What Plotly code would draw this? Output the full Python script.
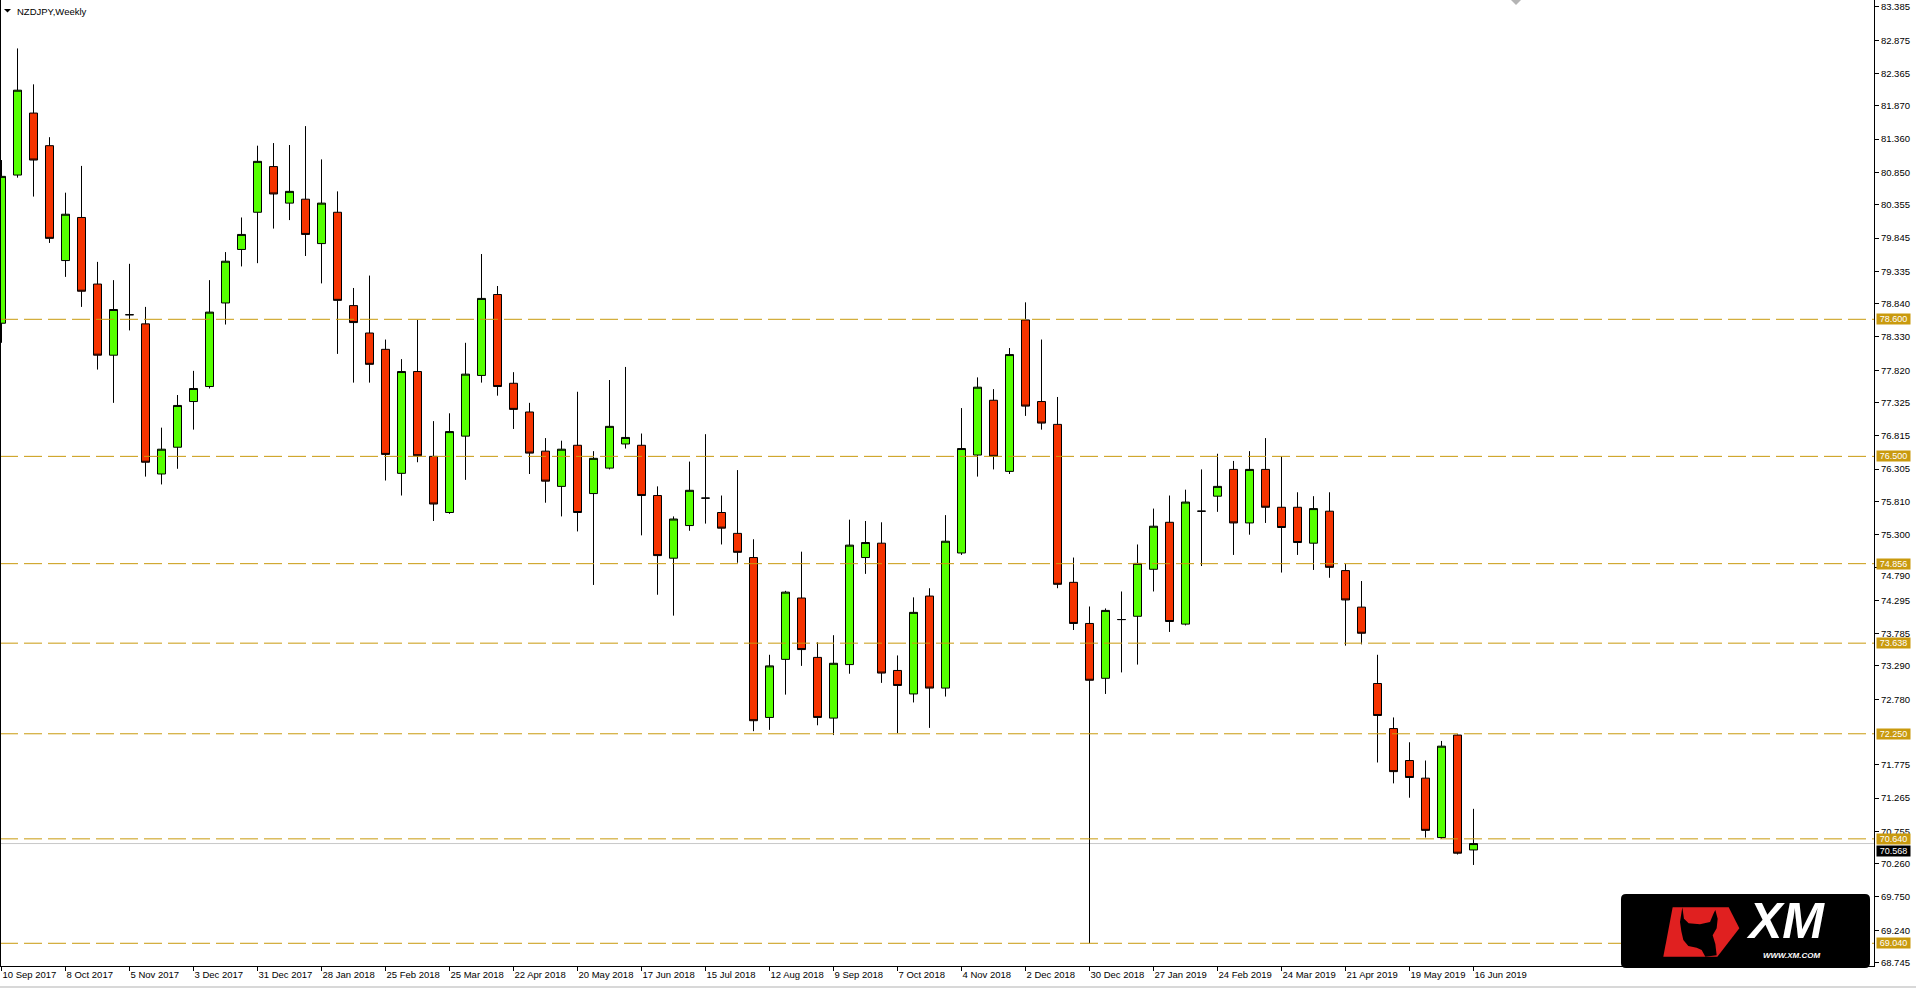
import plotly.graph_objects as go
import pandas as pd

# ---------------- data ----------------
first_week = "2017-09-10"
n_weeks = 93

opens = [78.54, 80.81, 81.76, 81.26, 79.50, 80.16, 79.14, 78.05, 78.67, 78.53,
         76.23, 76.64, 77.34, 77.57, 78.85, 79.67, 80.24, 80.94, 80.38, 80.44,
         79.76, 80.24, 78.81, 78.39, 78.14, 76.24, 77.80, 76.50, 75.64, 76.81,
         77.74, 78.98, 77.62, 77.18, 76.58, 76.04, 76.67, 75.93, 76.32, 76.69,
         76.67, 75.90, 74.94, 75.44, 75.86, 75.64, 75.32, 74.95, 72.50, 73.39,
         74.33, 73.42, 72.49, 73.31, 74.95, 75.17, 73.22, 72.86, 74.36, 72.95,
         75.02, 76.52, 77.36, 76.27, 78.59, 77.34, 76.99, 74.57, 73.94, 73.10,
         74.00, 74.05, 74.77, 75.49, 73.93, 75.66, 75.89, 76.30, 75.48, 76.30,
         75.72, 75.72, 75.17, 75.66, 74.75, 74.19, 73.02, 72.33, 71.84, 71.57,
         70.66, 72.23, 70.47]
highs = [81.04, 82.75, 82.20, 81.39, 80.54, 80.95, 79.48, 79.20, 79.45, 78.79,
         76.94, 77.44, 77.81, 79.20, 79.63, 80.16, 81.26, 81.30, 81.27, 81.56,
         81.05, 80.56, 79.08, 79.27, 78.29, 77.99, 78.59, 77.04, 77.16, 78.24,
         79.60, 79.11, 77.79, 77.32, 76.78, 76.74, 77.49, 76.58, 77.67, 77.87,
         76.85, 76.04, 75.58, 76.42, 76.84, 75.90, 76.29, 75.23, 73.46, 74.44,
         75.04, 73.65, 73.76, 75.53, 75.51, 75.49, 73.45, 74.34, 74.48, 75.60,
         77.24, 77.71, 77.53, 78.16, 78.86, 78.29, 77.41, 74.95, 74.20, 74.17,
         74.43, 75.15, 75.70, 75.90, 75.99, 76.30, 76.54, 76.43, 76.58, 76.78,
         76.50, 75.95, 75.89, 75.95, 74.85, 74.59, 73.46, 72.50, 72.12, 71.84,
         72.14, 72.24, 71.10]
lows = [78.24, 80.77, 80.48, 79.77, 79.25, 78.79, 77.83, 77.32, 78.43, 76.19,
        76.07, 76.31, 76.91, 77.54, 78.52, 79.41, 79.46, 79.99, 80.12, 79.57,
        79.15, 78.07, 77.63, 77.63, 76.13, 75.90, 76.41, 75.51, 75.62, 76.14,
        77.63, 77.43, 76.92, 76.23, 75.79, 75.58, 75.35, 74.53, 76.30, 76.62,
        75.29, 74.38, 74.06, 75.36, 75.47, 75.15, 74.87, 72.29, 72.31, 72.85,
        73.29, 72.38, 72.23, 73.17, 74.70, 73.03, 72.26, 72.73, 72.34, 72.82,
        74.99, 76.19, 76.30, 76.23, 77.12, 76.91, 74.48, 73.84, 69.04, 72.86,
        73.19, 73.31, 74.43, 73.81, 73.91, 74.82, 75.65, 74.99, 75.30, 75.48,
        74.72, 74.99, 74.76, 74.64, 73.60, 73.62, 71.81, 71.49, 71.27, 70.66,
        70.64, 70.40, 70.24]
closes = [80.79, 82.11, 81.04, 79.84, 80.21, 79.03, 78.05, 78.75, 78.67, 76.41,
          76.61, 77.28, 77.54, 78.71, 79.49, 79.90, 81.02, 80.52, 80.56, 79.90,
          80.38, 78.89, 78.55, 77.91, 76.53, 77.80, 76.51, 75.77, 76.88, 77.76,
          78.92, 77.57, 77.22, 76.55, 76.12, 76.61, 75.64, 76.47, 76.96, 76.79,
          75.90, 74.98, 75.54, 75.98, 75.86, 75.40, 75.03, 72.45, 73.29, 74.42,
          73.54, 72.50, 73.33, 75.14, 75.18, 73.18, 72.99, 74.11, 72.95, 75.20,
          76.62, 77.56, 76.50, 78.06, 77.27, 77.01, 74.54, 73.94, 73.07, 74.14,
          74.00, 74.86, 75.43, 73.97, 75.80, 75.66, 76.04, 75.48, 76.30, 75.72,
          75.41, 75.18, 75.70, 74.80, 74.30, 73.79, 72.53, 71.67, 71.58, 70.77,
          72.06, 70.42, 70.568]

x_tick_labels = ["10 Sep 2017", "8 Oct 2017", "5 Nov 2017", "3 Dec 2017", "31 Dec 2017",
                 "28 Jan 2018", "25 Feb 2018", "25 Mar 2018", "22 Apr 2018", "20 May 2018",
                 "17 Jun 2018", "15 Jul 2018", "12 Aug 2018", "9 Sep 2018", "7 Oct 2018",
                 "4 Nov 2018", "2 Dec 2018", "30 Dec 2018", "27 Jan 2019", "24 Feb 2019",
                 "24 Mar 2019", "21 Apr 2019", "19 May 2019", "16 Jun 2019"]

y_tick_values = [83.385, 82.875, 82.365, 81.870, 81.360, 80.850, 80.355, 79.845,
                 79.335, 78.840, 78.330, 77.820, 77.325, 76.815, 76.305, 75.810,
                 75.300, 74.790, 74.295, 73.785, 73.290, 72.780, 71.775, 71.265,
                 70.755, 70.260, 69.750, 69.240, 68.745]
# tick whose label sits partly under a level label; it is drawn just below that label
tucked_tick = 74.790

level_values = [78.600, 76.500, 74.856, 73.638, 72.250, 70.640, 69.040]
bid_price = 70.568
chart_title = "NZDJPY,Weekly"

# ---------------- styling ----------------
W, H = 1916, 988
PLOT_R, PLOT_B = 1874, 966          # right / bottom edge of the plot area (px)
GREEN = "#55FF00"
RED = "#F53300"
GOLD = "#C99A0E"
FONT = "Liberation Sans"
FS = 9.5
PX_PER_WEEK = 16
FIRST_CENTER_PX = 1.5

dates = pd.date_range(first_week, periods=n_weeks, freq="7D")
d0 = dates[0]
wk_left = -FIRST_CENTER_PX / PX_PER_WEEK
wk_right = (PLOT_R - FIRST_CENTER_PX) / PX_PER_WEEK
x_range = [d0 + pd.Timedelta(days=7 * wk_left), d0 + pd.Timedelta(days=7 * wk_right)]
y_range = [68.692, 83.492]


def pxx(x):
    return x / PLOT_R


def pxy(y):
    return (PLOT_B - y) / PLOT_B


def poly(points):
    return "M " + " L ".join(f"{pxx(x):.5f},{pxy(y):.5f}" for x, y in points) + " Z"


fig = go.Figure()
fig.add_trace(go.Candlestick(
    x=dates, open=opens, high=highs, low=lows, close=closes,
    increasing=dict(line=dict(color="black", width=1), fillcolor=GREEN),
    decreasing=dict(line=dict(color="black", width=1), fillcolor=RED),
    whiskerwidth=0, showlegend=False, hoverinfo="skip",
))

shapes = []
# bid line
shapes.append(dict(type="line", xref="paper", yref="y", x0=0, x1=1, y0=bid_price, y1=bid_price,
                   line=dict(color="#C8C8C8", width=1), layer="below"))
# horizontal level lines
for v in level_values:
    shapes.append(dict(type="line", xref="paper", yref="y", x0=0, x1=1, y0=v, y1=v,
                       line=dict(color=GOLD, width=1, dash="18px,6px"), layer="above"))
# left frame line
shapes.append(dict(type="line", xref="paper", yref="paper", x0=0, x1=0, y0=0, y1=1,
                   line=dict(color="black", width=2), layer="above"))
# title triangle
shapes.append(dict(type="path", xref="paper", yref="paper",
                   path=poly([(4, 9), (11, 9), (7.5, 12.5)]),
                   fillcolor="black", line=dict(width=0)))
# chart-shift marker at the top
shapes.append(dict(type="path", xref="paper", yref="paper",
                   path=poly([(1511, 0), (1521, 0), (1516, 5)]),
                   fillcolor="#B4B4B4", line=dict(width=0)))
# bottom grey strip
shapes.append(dict(type="rect", xref="paper", yref="paper",
                   x0=0, x1=W / PLOT_R, y0=pxy(988), y1=pxy(986),
                   fillcolor="#D8D8D8", line=dict(width=0)))

# XM logo: rounded black box
lx0, lx1, ly0, ly1, r = 1621, 1870, 894, 968, 5
box = (f"M {pxx(lx0 + r):.5f},{pxy(ly0):.5f} L {pxx(lx1 - r):.5f},{pxy(ly0):.5f} "
       f"Q {pxx(lx1):.5f},{pxy(ly0):.5f} {pxx(lx1):.5f},{pxy(ly0 + r):.5f} "
       f"L {pxx(lx1):.5f},{pxy(ly1 - r):.5f} "
       f"Q {pxx(lx1):.5f},{pxy(ly1):.5f} {pxx(lx1 - r):.5f},{pxy(ly1):.5f} "
       f"L {pxx(lx0 + r):.5f},{pxy(ly1):.5f} "
       f"Q {pxx(lx0):.5f},{pxy(ly1):.5f} {pxx(lx0):.5f},{pxy(ly1 - r):.5f} "
       f"L {pxx(lx0):.5f},{pxy(ly0 + r):.5f} "
       f"Q {pxx(lx0):.5f},{pxy(ly0):.5f} {pxx(lx0 + r):.5f},{pxy(ly0):.5f} Z")
shapes.append(dict(type="path", xref="paper", yref="paper", path=box,
                   fillcolor="black", line=dict(width=0), layer="above"))


def z6(pts):
    return [(1600 + a / 3, 860 + b / 3) for a, b in pts]


red_logo = z6([(218, 142), (386, 142), (418, 205), (352, 290), (190, 290)])
shapes.append(dict(type="path", xref="paper", yref="paper", path=poly(red_logo),
                   fillcolor="#E02020", line=dict(width=0), layer="above"))
bull = z6([(247, 142), (252, 176), (266, 190), (300, 193), (330, 186), (341, 160), (346, 150),
           (353, 176), (350, 205), (338, 226), (346, 252), (350, 286), (316, 290), (305, 270),
           (290, 263), (265, 258), (250, 240), (244, 214), (240, 186)])
shapes.append(dict(type="path", xref="paper", yref="paper", path=poly(bull),
                   fillcolor="black", line=dict(width=0), layer="above"))

annotations = []
annotations.append(dict(xref="paper", yref="paper", x=pxx(15), y=pxy(11), xanchor="left",
                        yanchor="middle", text=chart_title, showarrow=False,
                        font=dict(family=FONT, size=FS, color="black")))
# the tick label hidden by the 74.856 level label, placed just beneath it
annotations.append(dict(xref="paper", yref="y", x=1, y=tucked_tick, xanchor="left",
                        yanchor="middle", xshift=6, yshift=-8, text=f"{tucked_tick:.3f}",
                        showarrow=False, borderpad=0,
                        font=dict(family=FONT, size=FS, color="black")))
# bid price label (black), tucked just under the 70.640 label
annotations.append(dict(xref="paper", yref="y", x=1, y=bid_price, xanchor="left", yanchor="middle",
                        xshift=2, yshift=-7, text=f"{bid_price:.3f}", showarrow=False, bgcolor="black",
                        width=33, height=10, borderpad=0,
                        font=dict(family=FONT, size=9, color="white")))
for v in level_values:
    annotations.append(dict(xref="paper", yref="y", x=1, y=v, xanchor="left", yanchor="middle",
                            xshift=2, text=f"{v:.3f}", showarrow=False, bgcolor=GOLD,
                            width=33, height=10, borderpad=0,
                            font=dict(family=FONT, size=9, color="white")))
# XM logo texts
annotations.append(dict(xref="paper", yref="paper", x=pxx(1785), y=pxy(921), xanchor="center",
                        yanchor="middle", text="<b><i>XM</i></b>", showarrow=False,
                        font=dict(family=FONT, size=50, color="white")))
annotations.append(dict(xref="paper", yref="paper", x=pxx(1792), y=pxy(955.5), xanchor="center",
                        yanchor="middle", text="<b><i>WWW.XM.COM</i></b>", showarrow=False,
                        font=dict(family=FONT, size=8, color="white")))

y_tick_text = ["" if v == tucked_tick else f"{v:.3f}" for v in y_tick_values]

fig.update_layout(
    width=W, height=H, autosize=False,
    margin=dict(l=0, r=W - PLOT_R, t=0, b=H - PLOT_B, pad=0),
    paper_bgcolor="white", plot_bgcolor="white",
    showlegend=False,
    boxgap=0.5, boxgroupgap=0,
    shapes=shapes, annotations=annotations,
    xaxis=dict(
        type="date", range=x_range, rangeslider=dict(visible=False),
        tickvals=list(dates[::4]), ticktext=x_tick_labels,
        ticks="outside", ticklen=4, tickcolor="black", tickwidth=1,
        ticklabelposition="outside right",
        showline=True, linecolor="black", linewidth=1,
        showgrid=False, zeroline=False, automargin=False, fixedrange=True,
        tickfont=dict(family=FONT, size=FS, color="black"),
    ),
    yaxis=dict(
        side="right", range=y_range,
        tickvals=y_tick_values, ticktext=y_tick_text,
        ticks="outside", ticklen=4, tickcolor="black", tickwidth=1,
        showline=True, linecolor="black", linewidth=1,
        showgrid=False, zeroline=False, automargin=False, fixedrange=True,
        tickfont=dict(family=FONT, size=FS, color="black"),
    ),
)

fig.write_html(
    "out.html",
    config={"displayModeBar": False, "staticPlot": True},
    post_script="document.body.style.margin='0';document.body.style.overflow='hidden';"
                "document.documentElement.style.overflow='hidden';",
)
